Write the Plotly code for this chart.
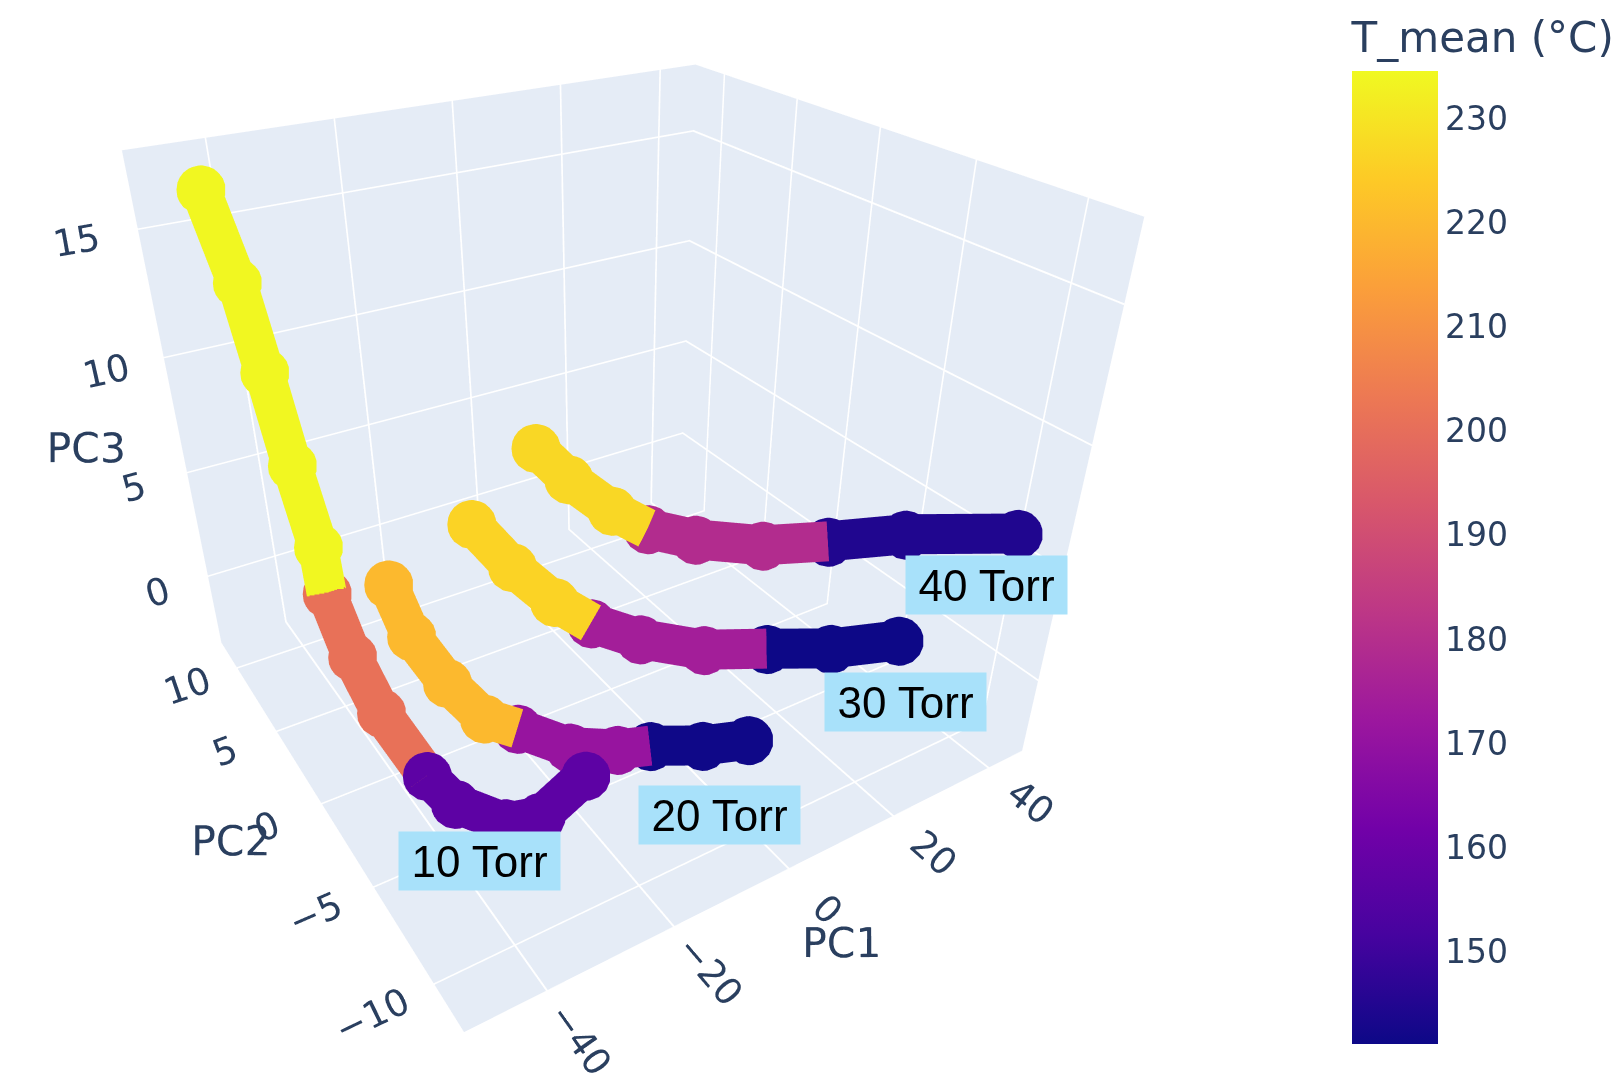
import plotly.graph_objects as go

# PCA trajectories, one list per pressure; each curve is split into three T_mean regimes
pressures = ["10 Torr", "20 Torr", "30 Torr", "40 Torr"]

pc1_10 = [-44.9, -42.5, -41.8, -41.3, -40.2, -41.1, -40.6, -40.1, -37.9, -36.45, -31.57, -26.65, -17.2]
pc2_10 = [9.3, 8.8, 7.7, 6.4, 5.5, 4.5, 2.8, 0.6, -2.1, -3.72, -5.38, -5.82, -5.1]
pc3_10 = [16.9, 13.6, 10.5, 7.2, 4.0, 2.5, 0.5, -0.8, -2.2, -2.5, -2.75, -2.7, -2.4]
cuts_10 = [5, 8]
tmean_10 = [234.0, 201.0, 157.0]

pc1_20 = [-39.0, -36.9, -33.2, -28.6, -23.1, -17.4, -10.5, -5.2, 2.3, 9.5]
pc2_20 = [-1.0, -1.3, -2.0, -2.5, -2.5, -4.0, -4.7, -5.0, -5.9, -6.5]
pc3_20 = [5.8, 3.6, 1.6, -0.2, -1.3, -1.8, -2.2, -2.4, -2.6, -2.7]
cuts_20 = [4, 7]
tmean_20 = [220.0, 171.0, 141.5]

pc1_30 = [-23.4, -17.9, -11.7, -6.0, 1.0, 10.3, 20.2, 31.4, 43.0]
pc2_30 = [0.3, -0.1, -0.5, -0.9, -1.8, -3.0, -4.0, -4.8, -5.8]
pc3_30 = [6.3, 4.2, 2.3, 1.0, 0.1, -0.6, -0.9, -1.5, -1.6]
cuts_30 = [3, 6]
tmean_30 = [226.0, 174.5, 141.0]

pc1_40 = [-14.9, -10.1, -4.4, 0.2, 5.3, 14.0, 23.0, 33.7, 43.8]
pc2_40 = [-0.9, -1.1, -1.8, -2.5, -3.8, -5.1, -6.2, -7.5, -10.6]
pc3_40 = [9.3, 7.8, 6.4, 5.6, 5.4, 5.1, 5.1, 5.2, 6.0]
cuts_40 = [3, 6]
tmean_40 = [227.0, 179.0, 144.5]

curves = [
    (pc1_10, pc2_10, pc3_10, cuts_10, tmean_10),
    (pc1_20, pc2_20, pc3_20, cuts_20, tmean_20),
    (pc1_30, pc2_30, pc3_30, cuts_30, tmean_30),
    (pc1_40, pc2_40, pc3_40, cuts_40, tmean_40),
]

t_min, t_max = 141.1, 234.5

# label offsets (px) from the end of each curve
label_dx = [-106, -29, 7, -31]
label_dy = [-86, -75, -62, -51]

fig = go.Figure()
first = True
annotations = []
for k, (xs, ys, zs, cuts, tm) in enumerate(curves):
    bounds = [0] + cuts + [len(xs) - 1]
    for s in range(3):
        a, b = bounds[s], bounds[s + 1] + 1
        vals = [tm[s]] * (b - a)
        fig.add_trace(go.Scatter3d(
            x=xs[a:b], y=ys[a:b], z=zs[a:b],
            mode="lines+markers",
            line=dict(width=80, color=vals, colorscale="Plasma", cmin=t_min, cmax=t_max),
            marker=dict(size=28.5, color=vals, colorscale="Plasma", cmin=t_min, cmax=t_max,
                        line=dict(width=0), opacity=1,
                        showscale=first,
                        colorbar=dict(
                            title=dict(text="T_mean (°C)", side="top",
                                       font=dict(size=42, color="#2a3f5f")),
                            tickfont=dict(size=33, color="#2a3f5f"),
                            thickness=86, len=0.970, y=0.034, yanchor="bottom",
                            x=0.8217, xanchor="left", outlinewidth=0,
                            dtick=10,
                        )),
            hoverinfo="skip",
            showlegend=False,
        ))
        first = False
    annotations.append(dict(
        x=xs[-1], y=ys[-1], z=zs[-1],
        text=pressures[k], showarrow=False,
        xshift=label_dx[k], yshift=label_dy[k],
        bgcolor="#A8E1FA", width=157, height=54, borderpad=2,
        font=dict(family="Liberation Sans, Arial", size=44, color="black"),
    ))

axis_common = dict(
    backgroundcolor="#E5ECF6", showbackground=True,
    gridcolor="white", gridwidth=4, zerolinecolor="white", zerolinewidth=4,
    tickfont=dict(size=21, color="#2a3f5f"),
    ticks="outside", ticklen=30, tickcolor="rgba(255,255,255,0)",
)

fig.update_layout(
    width=1623, height=1083,
    margin=dict(l=0, r=0, t=0, b=0),
    paper_bgcolor="white",
    font=dict(family="DejaVu Sans, Verdana", color="#2a3f5f"),
    scene=dict(
        domain=dict(x=[0, 0.74], y=[0, 1]),
        aspectmode="manual",
        aspectratio=dict(x=1.14, y=1.1, z=1.0),
        xaxis=dict(title=dict(text="PC1", font=dict(size=41)), range=[-52, 47.5], dtick=20, **axis_common),
        yaxis=dict(title=dict(text="PC2", font=dict(size=41)), range=[-12.2, 12.2], dtick=5, **axis_common),
        zaxis=dict(title=dict(text="PC3", font=dict(size=41)), range=[-3.5, 17.8], dtick=5, **axis_common),
        camera=dict(
            eye=dict(x=-1.029, y=-1.678, z=1.106),
            center=dict(x=-0.0313, y=-0.0816, z=-0.1157),
            up=dict(x=0, y=0, z=1),
        ),
        annotations=annotations,
    ),
)

fig.write_html("out.html")
